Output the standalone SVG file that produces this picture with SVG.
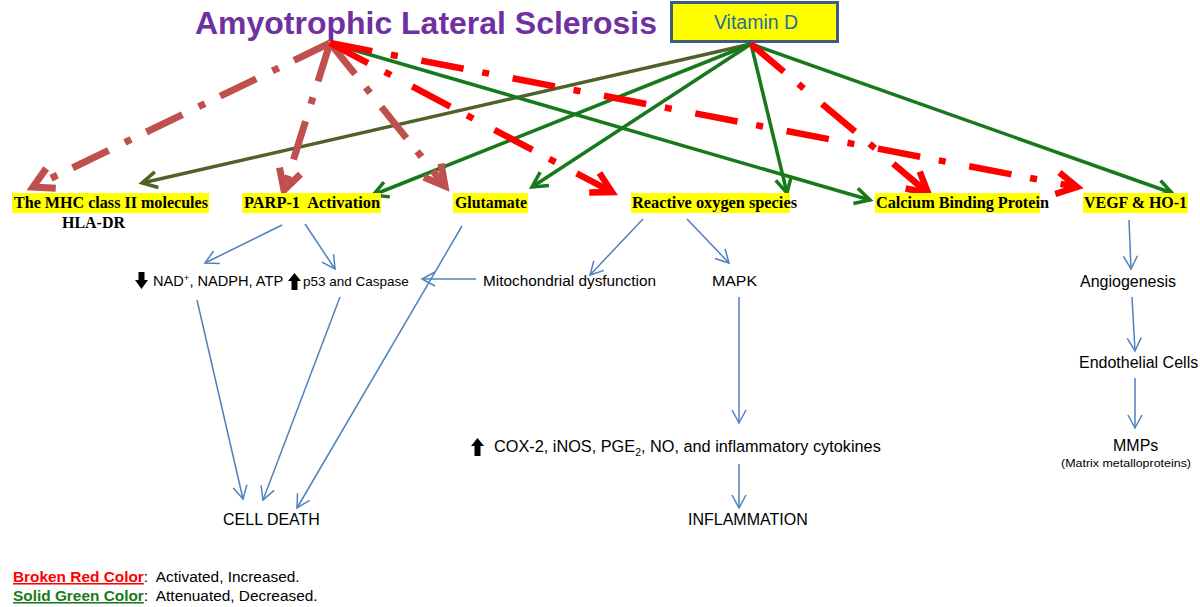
<svg xmlns="http://www.w3.org/2000/svg" width="1200" height="607" viewBox="0 0 1200 607">
<style>
  .lbl { font-family: "Liberation Serif", "Times New Roman", serif; font-weight: bold; font-size: 16.5px; fill: #000; }
  .hl { fill: #FFFF00; }
  .t { font-family: "Liberation Sans", Arial, sans-serif; font-size: 15.5px; fill: #000; }
  .dr { fill: none; stroke: #C0504D; stroke-width: 7; stroke-dasharray: 40 17 7 18; }
  .rd { fill: none; stroke: #FF0000; stroke-width: 6.5; stroke-dasharray: 43 19 7 24; }
  .gr { fill: none; stroke: #18791C; stroke-width: 3.5; }
  .ol { fill: none; stroke: #4F6228; stroke-width: 3.5; }
  .bl { fill: none; stroke: #4F81BD; stroke-width: 1.5; }
</style>
<defs>
  <marker id="mDr" markerUnits="userSpaceOnUse" markerWidth="40" markerHeight="40" viewBox="-30 -20 40 40" refX="0" refY="0" orient="auto" overflow="visible">
    <path d="M-20,-11 L0,0 L-20,11" fill="none" stroke="#C0504D" stroke-width="7"/>
  </marker>
  <marker id="mRd" markerUnits="userSpaceOnUse" markerWidth="40" markerHeight="40" viewBox="-30 -20 40 40" refX="0" refY="0" orient="auto" overflow="visible">
    <path d="M-20,-11 L0,0 L-20,11" fill="none" stroke="#FF0000" stroke-width="6.5"/>
  </marker>
  <marker id="mGr" markerUnits="userSpaceOnUse" markerWidth="30" markerHeight="30" viewBox="-20 -15 30 30" refX="0" refY="0" orient="auto" overflow="visible">
    <path d="M-15,-8 L0,0 L-15,8" fill="none" stroke="#18791C" stroke-width="3.5"/>
  </marker>
  <marker id="mOl" markerUnits="userSpaceOnUse" markerWidth="30" markerHeight="30" viewBox="-20 -15 30 30" refX="0" refY="0" orient="auto" overflow="visible">
    <path d="M-15,-8 L0,0 L-15,8" fill="none" stroke="#4F6228" stroke-width="3.5"/>
  </marker>
  <marker id="mBl" markerUnits="userSpaceOnUse" markerWidth="20" markerHeight="20" viewBox="-15 -10 20 20" refX="0" refY="0" orient="auto" overflow="visible">
    <path d="M-13,-7 L0,0 L-13,7" fill="none" stroke="#4F81BD" stroke-width="1.5"/>
  </marker>
</defs>
<rect width="1200" height="607" fill="#FFFFFF"/>

<g id="als">
  <text x="195" y="34" textLength="462" lengthAdjust="spacingAndGlyphs" style="font-family:'Liberation Sans',Arial,sans-serif;font-weight:bold;font-size:32px;fill:#7030A0">Amyotrophic Lateral Sclerosis</text>
</g>
<g id="vitamin-d">
  <rect x="671.5" y="2.5" width="166" height="39" fill="#FFFF00" stroke="#3F5D80" stroke-width="3"/>
  <text x="756" y="29" text-anchor="middle" style="font-family:'Liberation Sans',Arial,sans-serif;font-size:19.5px;fill:#1F6E9E">Vitamin D</text>
</g>

<g id="connectors">
  <path class="ol" d="M751,44 L142,183" marker-end="url(#mOl)"/>
  <path class="gr" d="M751,44 L373,195" marker-end="url(#mGr)"/>
  <path class="gr" d="M751,44 L532,187" marker-end="url(#mGr)"/>
  <path class="gr" d="M751,44 L787,193" marker-end="url(#mGr)"/>
  <path class="gr" d="M751,44 L1172,193" marker-end="url(#mGr)"/>
  <path class="gr" d="M333,44 L870,200" marker-end="url(#mGr)"/>
  <path class="dr" d="M330,43 L33,187" marker-end="url(#mDr)"/>
  <path class="dr" d="M330,43 L284,190" marker-end="url(#mDr)"/>
  <path class="dr" d="M330,43 L445,186" marker-end="url(#mDr)"/>
  <path class="rd" d="M330,43 L612,192" marker-end="url(#mRd)"/>
  <path class="rd" d="M330,43 L1077,187" marker-end="url(#mRd)"/>
  <path class="rd" d="M751,44 L928,193" marker-end="url(#mRd)"/>
  <path class="bl" d="M282,225 L205,263" marker-end="url(#mBl)"/>
  <path class="bl" d="M305,224 L335,269" marker-end="url(#mBl)"/>
  <path class="bl" d="M462,226 L297,508" marker-end="url(#mBl)"/>
  <path class="bl" d="M476,279 L422,279" marker-end="url(#mBl)"/>
  <path class="bl" d="M643,219 L590,275" marker-end="url(#mBl)"/>
  <path class="bl" d="M687,219 L729,263" marker-end="url(#mBl)"/>
  <path class="bl" d="M197,300 L243,499" marker-end="url(#mBl)"/>
  <path class="bl" d="M340,297 L263,500" marker-end="url(#mBl)"/>
  <path class="bl" d="M739,297 L739,423" marker-end="url(#mBl)"/>
  <path class="bl" d="M739,464 L739,508" marker-end="url(#mBl)"/>
  <path class="bl" d="M1129,220 L1131,269" marker-end="url(#mBl)"/>
  <path class="bl" d="M1132,297 L1135,351" marker-end="url(#mBl)"/>
  <path class="bl" d="M1135,378 L1135,428" marker-end="url(#mBl)"/>
</g>

<g id="mhc">
  <rect class="hl" x="12" y="193" width="197" height="20"/>
  <text class="lbl" x="14" y="208" textLength="194" lengthAdjust="spacingAndGlyphs">The MHC class II molecules</text>
  <text class="lbl" x="62" y="228" textLength="63" lengthAdjust="spacingAndGlyphs">HLA-DR</text>
</g>
<g id="parp">
  <rect class="hl" x="242" y="193" width="139" height="20"/>
  <text class="lbl" x="244" y="208" textLength="136" lengthAdjust="spacingAndGlyphs" xml:space="preserve">PARP-1  Activation</text>
</g>
<g id="glutamate">
  <rect class="hl" x="453" y="193" width="75" height="20"/>
  <text class="lbl" x="455" y="208" textLength="72" lengthAdjust="spacingAndGlyphs">Glutamate</text>
</g>
<g id="ros">
  <rect class="hl" x="631" y="193" width="159" height="20"/>
  <text class="lbl" x="632" y="208" textLength="165" lengthAdjust="spacingAndGlyphs">Reactive oxygen species</text>
</g>
<g id="cbp">
  <rect class="hl" x="875" y="193" width="165" height="20"/>
  <text class="lbl" x="876" y="208" textLength="173" lengthAdjust="spacingAndGlyphs">Calcium Binding Protein</text>
</g>
<g id="vegf">
  <rect class="hl" x="1083" y="193" width="105" height="20"/>
  <text class="lbl" x="1084" y="208" textLength="103" lengthAdjust="spacingAndGlyphs">VEGF &amp; HO-1</text>
</g>

<g id="nad">
  <polygon points="138.5,272 144.5,272 144.5,280 148,280 141.5,289 135,280 138.5,280" fill="#000"/>
  <text class="t" x="153" y="286" style="font-size:14.6px">NAD<tspan dy="-5" style="font-size:9.5px">+</tspan><tspan dy="5">, NADPH, ATP</tspan></text>
</g>
<g id="p53">
  <polygon points="294.5,273 301,281 297.5,281 297.5,290 291.5,290 291.5,281 288,281" fill="#000"/>
  <text class="t" x="303" y="286" style="font-size:13.5px">p53 and Caspase</text>
</g>
<g id="mito">
  <text class="t" x="483" y="286" textLength="173" lengthAdjust="spacingAndGlyphs">Mitochondrial dysfunction</text>
</g>
<g id="mapk">
  <text class="t" x="712" y="286" textLength="45" lengthAdjust="spacingAndGlyphs">MAPK</text>
</g>
<g id="cox">
  <polygon points="477.5,438 484,446 480.5,446 480.5,456 474.5,456 474.5,446 471,446" fill="#000"/>
  <text class="t" x="494" y="452" style="font-size:16.3px">COX-2, iNOS, PGE<tspan dy="4" style="font-size:10.5px">2</tspan><tspan dy="-4">, NO, and inflammatory cytokines</tspan></text>
</g>
<g id="cell-death">
  <text class="t" x="223" y="525" style="font-size:16px">CELL DEATH</text>
</g>
<g id="inflammation">
  <text class="t" x="688" y="525" style="font-size:16px">INFLAMMATION</text>
</g>
<g id="angiogenesis">
  <text class="t" x="1080" y="287" style="font-size:16px">Angiogenesis</text>
</g>
<g id="endothelial">
  <text class="t" x="1079" y="368" style="font-size:16px">Endothelial Cells</text>
</g>
<g id="mmps">
  <text class="t" x="1113" y="451" style="font-size:16px">MMPs</text>
  <text class="t" x="1061" y="467" textLength="130" lengthAdjust="spacingAndGlyphs" style="font-size:11px">(Matrix metalloproteins)</text>
</g>

<g id="legend">
  <text class="t" x="13" y="582" style="font-size:15.4px"><tspan style="font-weight:bold;fill:#FF0000;text-decoration:underline">Broken Red Color</tspan><tspan xml:space="preserve">:  Activated, Increased.</tspan></text>
  <text class="t" x="13" y="601" style="font-size:15.4px"><tspan style="font-weight:bold;fill:#18791C;text-decoration:underline">Solid Green Color</tspan><tspan xml:space="preserve">:  Attenuated, Decreased.</tspan></text>
</g>
</svg>
